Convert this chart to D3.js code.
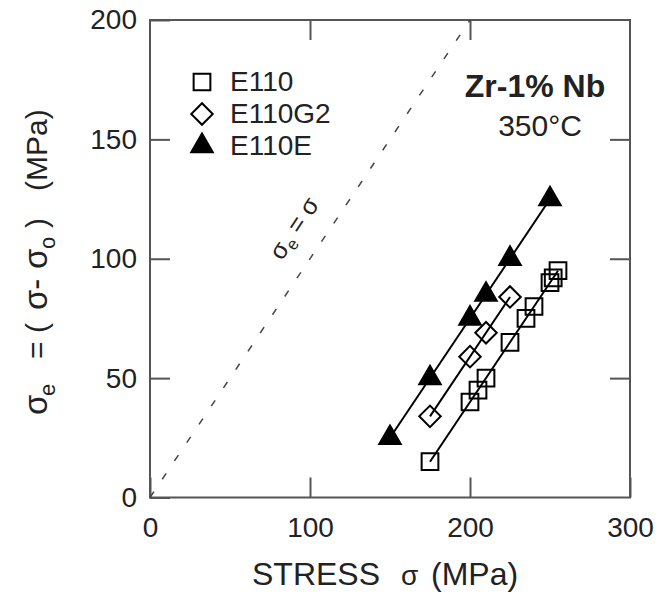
<!DOCTYPE html>
<html>
<head>
<meta charset="utf-8">
<script src="https://cdn.jsdelivr.net/npm/d3@7"></script>
<style>
body { margin: 0; background: #fff; }
text { font-family: "Liberation Sans", Arial, sans-serif; fill: #222; }
</style>
</head>
<body>
<svg id="chart" width="666" height="593"></svg>
<script>

///// Data

let e110Stress = [175, 200, 205, 210, 225, 235, 240, 250, 252, 255];
let e110Eff    = [15, 40, 45, 50, 65, 75, 80, 90, 92, 95];

let g2Stress = [175, 200, 210, 225];
let g2Eff    = [34, 59, 69, 84];

let eStress = [150, 175, 200, 210, 225, 250];
let eEff    = [25, 50, 75, 85, 100, 125];

let seriesNames = ["E110", "E110G2", "E110E"];
let xTicks = [0, 100, 200, 300];
let yTicks = [0, 50, 100, 150, 200];
let refLine = [0, 200];   // sigma_e = sigma


///// Setup

let svg = d3.select("#chart");

let x = d3.scaleLinear().domain([0, 300]).range([150, 630]);
let y = d3.scaleLinear().domain([0, 200]).range([497.5, 20]);

let axisColor = "#555";

// symbols
let symSquare = d3.symbol().type(d3.symbolSquare).size(280)();
let symDiamond = d3.symbol().type(d3.symbolSquare).size(230)();
let symTriangle = d3.symbol().type(d3.symbolTriangle).size(200)();

let series = [
    { name: seriesNames[0], xs: e110Stress, ys: e110Eff, path: symSquare, rot: 0, fill: "none" },
    { name: seriesNames[1], xs: g2Stress, ys: g2Eff, path: symDiamond, rot: 45, fill: "none" },
    { name: seriesNames[2], xs: eStress, ys: eEff, path: symTriangle, rot: 0, fill: "#000" }
];


///// Axes

function styleAxis(g) {
    g.select(".domain").remove();
    g.selectAll(".tick line").attr("stroke", axisColor).attr("stroke-width", 2);
    g.selectAll(".tick text")
        .attr("font-size", 28)
        .attr("fill", "#222")
        .style("font-family", "'Liberation Sans', Arial, sans-serif");
}

svg.append("g")
    .attr("transform", "translate(0," + y(0) + ")")
    .call(d3.axisBottom(x).tickValues(xTicks).tickSize(-20).tickPadding(20))
    .call(styleAxis);

svg.append("g")
    .attr("transform", "translate(" + x(0) + ",0)")
    .call(d3.axisLeft(y).tickValues(yTicks).tickSize(-20).tickPadding(13))
    .call(styleAxis);

svg.append("g")
    .attr("transform", "translate(0," + y(200) + ")")
    .call(d3.axisTop(x).tickValues([100, 200]).tickSize(-20).tickFormat(""))
    .call(styleAxis);

svg.append("g")
    .attr("transform", "translate(" + x(300) + ",0)")
    .call(d3.axisRight(y).tickValues([50, 100, 150]).tickSize(-20).tickFormat(""))
    .call(styleAxis);

// frame
svg.append("rect")
    .attr("x", x(0))
    .attr("y", y(200))
    .attr("width", x(300) - x(0))
    .attr("height", y(0) - y(200))
    .attr("fill", "none")
    .attr("stroke", axisColor)
    .attr("stroke-width", 2);


///// Reference line sigma_e = sigma

svg.append("path")
    .datum(refLine)
    .attr("d", d3.line().x(d => x(d)).y(d => y(d)))
    .attr("fill", "none")
    .attr("stroke", "#444")
    .attr("stroke-width", 1.5)
    .attr("stroke-dasharray", "7,15");

let refAngle = Math.atan2(y(200) - y(0), x(200) - x(0)) * 180 / Math.PI;
let refLabel = svg.append("text")
    .attr("transform", "translate(301,233) rotate(" + refAngle + ")")
    .attr("text-anchor", "middle")
    .attr("font-size", 25);
refLabel.append("tspan").text("σ");
refLabel.append("tspan").attr("font-size", 17).attr("dy", 5).text("e");
refLabel.append("tspan").attr("dy", -5).text(" = σ");


///// Fit lines and markers

function fit(xs, ys) {
    let mx = d3.mean(xs), my = d3.mean(ys);
    let b = d3.sum(xs, (v, i) => (v - mx) * (ys[i] - my)) / d3.sum(xs, v => (v - mx) * (v - mx));
    let a = my - b * mx;
    return d3.extent(xs).map(v => [v, a + b * v]);
}

series.forEach(s => {
    svg.append("path")
        .datum(fit(s.xs, s.ys))
        .attr("d", d3.line().x(d => x(d[0])).y(d => y(d[1])))
        .attr("fill", "none")
        .attr("stroke", "#000")
        .attr("stroke-width", 2);
});

series.forEach(s => {
    svg.append("g").selectAll("path")
        .data(s.xs.map((v, i) => [v, s.ys[i]]))
        .join("path")
        .attr("d", s.path)
        .attr("transform", d => "translate(" + x(d[0]) + "," + y(d[1]) + ") rotate(" + s.rot + ")")
        .attr("fill", s.fill)
        .attr("stroke", "#000")
        .attr("stroke-width", 2);
});


///// Legend

let legend = svg.append("g");
series.forEach((s, i) => {
    let ly = 82 + i * 32;
    legend.append("path")
        .attr("d", s.path)
        .attr("transform", "translate(202," + ly + ") rotate(" + s.rot + ")")
        .attr("fill", s.fill)
        .attr("stroke", "#000")
        .attr("stroke-width", 2);
    legend.append("text")
        .attr("x", 230)
        .attr("y", ly + 9)
        .attr("font-size", 28)
        .text(s.name);
});

svg.append("text")
    .attr("x", 535)
    .attr("y", 97)
    .attr("text-anchor", "middle")
    .attr("font-size", 32)
    .attr("font-weight", "bold")
    .attr("fill", "#111")
    .text("Zr-1% Nb");

svg.append("text")
    .attr("x", 540)
    .attr("y", 136)
    .attr("text-anchor", "middle")
    .attr("font-size", 30)
    .text("350°C");


///// Axis titles

let xTitle = svg.append("text")
    .attr("y", 585)
    .attr("font-size", 32)
    .style("white-space", "pre");
xTitle.append("tspan").attr("x", 252).text("STRESS");
xTitle.append("tspan").attr("x", 401).attr("font-size", 28).text("σ");
xTitle.append("tspan").attr("x", 431).text("(MPa)");

// y title, laid out piece by piece along the rotated baseline
let yTitle = svg.append("text")
    .attr("transform", "translate(47,415) rotate(-90)")
    .attr("font-size", 30)
    .style("white-space", "pre");
yTitle.append("tspan").attr("x", 0).attr("font-size", 33).text("σ");
yTitle.append("tspan").attr("x", 19).attr("dy", 8).attr("font-size", 22).text("e");
yTitle.append("tspan").attr("x", 56).attr("dy", -8).text("=");
yTitle.append("tspan").attr("x", 82).text("(");
yTitle.append("tspan").attr("x", 105).attr("font-size", 33).text("σ-");
yTitle.append("tspan").attr("x", 146).attr("font-size", 33).text("σ");
yTitle.append("tspan").attr("x", 166).attr("dy", 8).attr("font-size", 22).text("o");
yTitle.append("tspan").attr("x", 187).attr("dy", -8).text(")");
yTitle.append("tspan").attr("x", 224).text("(MPa)");

</script>
</body>
</html>
